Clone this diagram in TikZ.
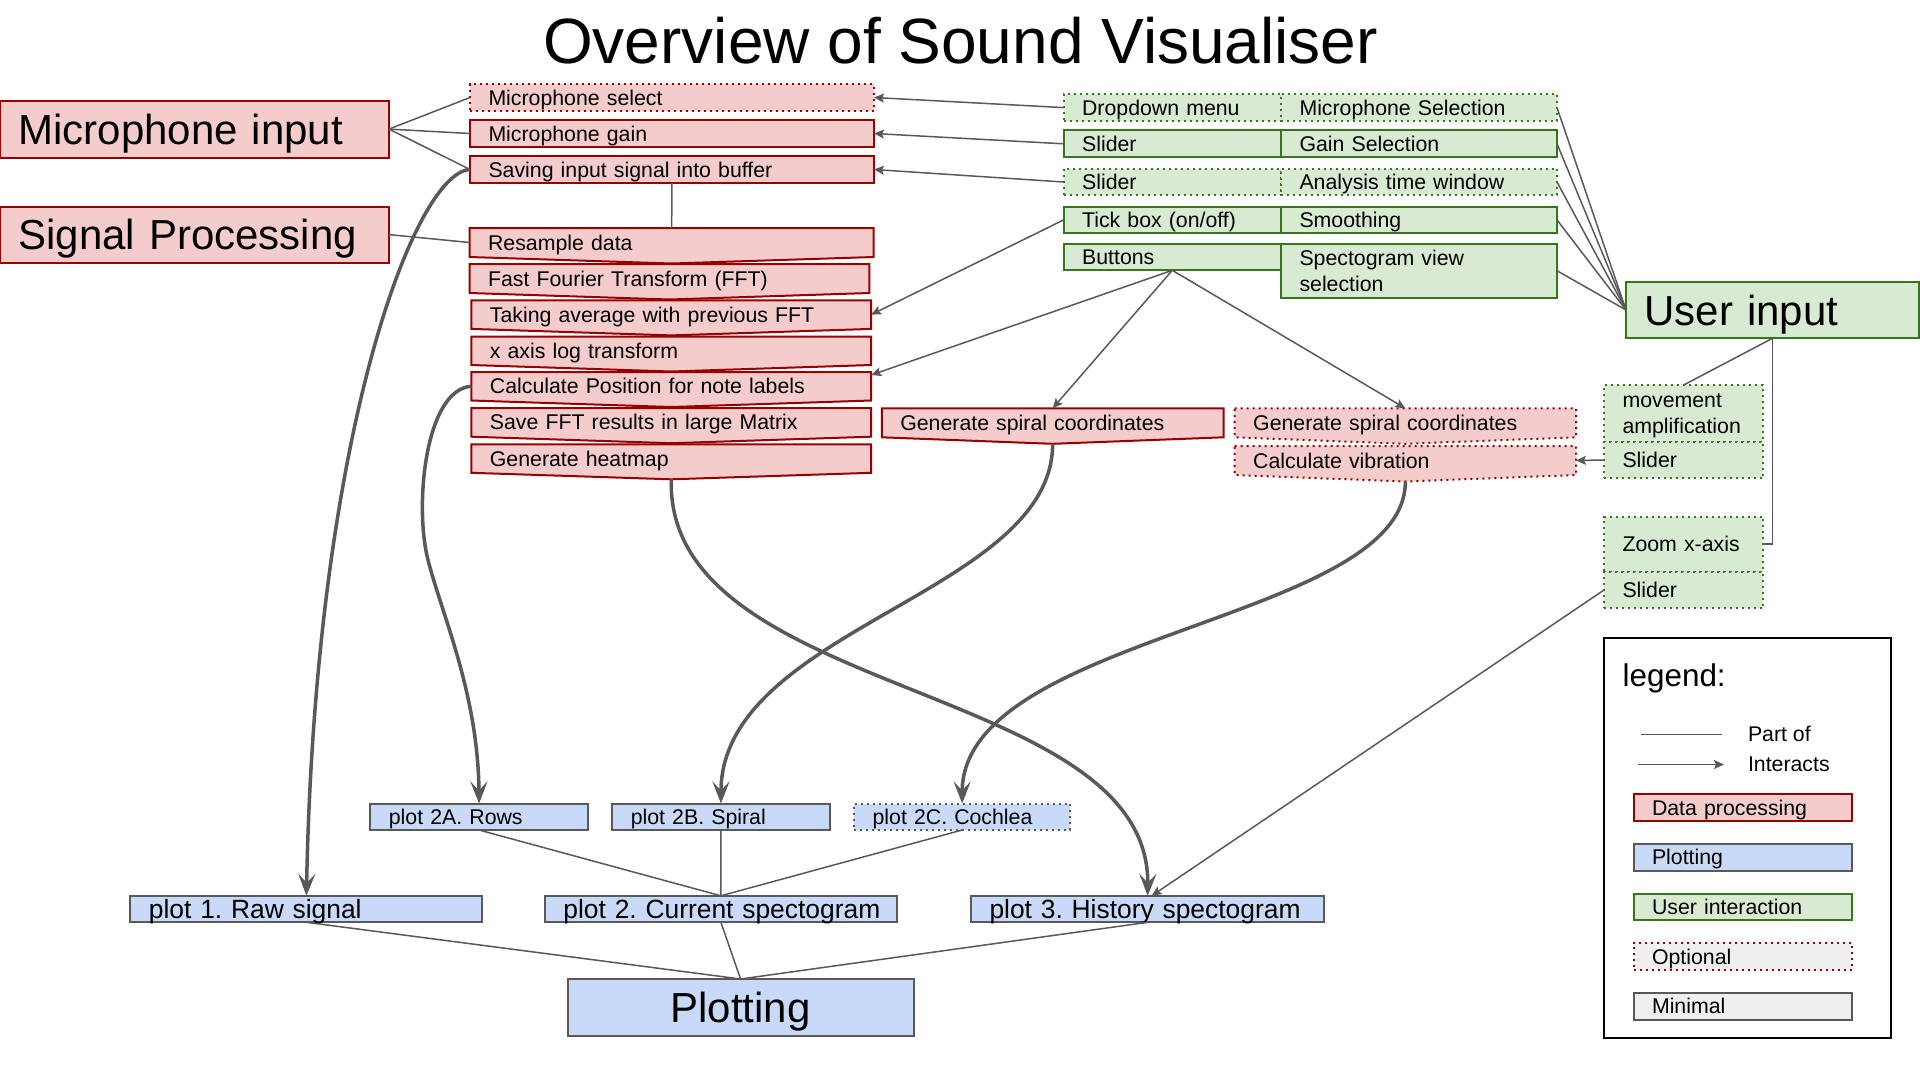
\documentclass[tikz,border=0pt]{standalone}
\usepackage{fontspec}
\setmainfont{Liberation Sans}
\usetikzlibrary{arrows.meta,backgrounds,calc}
\definecolor{rfill}{HTML}{F4CCCC}
\definecolor{rline}{HTML}{990000}
\definecolor{gfill}{HTML}{D9EAD3}
\definecolor{gline}{HTML}{38761D}
\definecolor{bfill}{HTML}{C9DAF8}
\definecolor{cgrey}{HTML}{595959}
\definecolor{lfill}{HTML}{EFEFEF}
\frenchspacing
\newcommand{\fsS}{\fontsize{21.3}{25.7}\selectfont}
\newcommand{\fsP}{\fontsize{26.4}{31}\selectfont}
\newcommand{\fsB}{\fontsize{42}{50}\selectfont}
\newcommand{\fsT}{\fontsize{64}{76}\selectfont}
\newcommand{\fsL}{\fontsize{31.4}{37}\selectfont}
\tikzset{
 boxbase/.style={rectangle, anchor=north west, inner ysep=0pt, inner xsep=18.5pt, outer sep=0pt, align=left, font=\fsS, text height=15.25pt, text depth=0pt, line width=2pt},
 dotln/.style={dash pattern=on 2pt off 4pt},
 redbox/.style={boxbase, fill=rfill, draw=rline},
 redopt/.style={redbox, dotln},
 greenbox/.style={boxbase, fill=gfill, draw=gline},
 greenopt/.style={greenbox, dotln},
 bluebox/.style={boxbase, fill=bfill, draw=cgrey},
 blueopt/.style={bluebox, dotln},
 greybox/.style={boxbase, fill=lfill, draw=cgrey},
 greyopt/.style={boxbase, fill=lfill, draw=rline, dotln},
 chevnode/.style={boxbase, draw=none, fill=none},
 chevred/.style={fill=rfill, draw=rline, line width=2pt, line join=miter},
 chevopt/.style={chevred, dotln},
 big/.style={font=\fsB, text height=30.1pt},
 plotfont/.style={font=\fsP, text height=18.9pt},
 conn/.style={draw=cgrey, line width=1.5pt},
 arr/.style={conn, -{Stealth[length=10pt,width=9pt,inset=2pt]}},
 bigarr/.style={draw=cgrey, line width=3.5pt, -{Stealth[length=22pt,width=17pt,inset=9pt]}},
 plain/.style={inner sep=0pt, outer sep=0pt, font=\fsS, text height=15.25pt, text depth=0pt},
}
\newcommand{\mybox}[7]{%
 \pgfmathsetmacro{\mytwd}{#5-37}%
 \node[#1, minimum width=#5pt, minimum height=#6pt, text width=\mytwd pt] (#2) at (#3,#4) {#7};}
\newcommand{\mychev}[2]{%
 \begin{scope}[on background layer]
 \draw[#2] (#1.north west) -- (#1.north east) -- (#1.south east) -- ([yshift=-6.5pt]#1.south) -- (#1.south west) -- cycle;
 \end{scope}}
\begin{document}
\begin{tikzpicture}[x=1pt,y=-1pt]
\begin{scope}[on background layer]
\fill[white] (0,0) rectangle (1920,1080);
\end{scope}
\useasboundingbox (0,0) rectangle (1920,1080);

\node[font=\fsT, anchor=base, inner sep=0pt] (title) at (960.5,63.7) {Overview of Sound Visualiser};

% section boxes
\mybox{redbox,big}{micin}{0}{100.6}{389}{57}{Microphone input}
\mybox{redbox,big}{sigproc}{0}{206.6}{389}{56}{Signal Processing}

% red column
\mybox{redopt}{micsel}{470}{84.3}{404}{26.4}{Microphone select}
\mybox{redbox}{micgain}{470}{120.3}{404}{26.4}{Microphone gain}
\mybox{redbox}{saving}{470}{156.3}{404}{26.4}{Saving input signal into buffer}
\mybox{chevnode}{resample}{469.6}{228}{404.1}{29}{Resample data}\mychev{resample}{chevred}
\mybox{chevnode}{fft}{469.6}{264}{399.8}{29}{Fast Fourier Transform (FFT)}\mychev{fft}{chevred}
\mybox{chevnode}{avg}{471.4}{300.3}{399.8}{28.6}{Taking average with previous FFT}\mychev{avg}{chevred}
\mybox{chevnode}{xlog}{471.4}{336.5}{399.8}{28.5}{x axis log transform}\mychev{xlog}{chevred}
\mybox{chevnode}{calc}{471.4}{372}{399.8}{28.5}{Calculate Position for note labels}\mychev{calc}{chevred}
\mybox{chevnode}{savefft}{471.4}{408}{399.8}{28.7}{Save FFT results in large Matrix}\mychev{savefft}{chevred}
\mybox{chevnode}{heat}{471.4}{444.3}{399.8}{28.5}{Generate heatmap}\mychev{heat}{chevred}

% green interaction boxes
\mybox{greenopt}{dd}{1063.6}{94}{217.4}{27.2}{Dropdown menu}
\mybox{greenopt}{mics}{1281}{94}{276}{27.2}{Microphone Selection}
\mybox{greenbox}{sl1}{1063.6}{130.2}{217.4}{27.2}{Slider}
\mybox{greenbox}{gains}{1281}{130.2}{276}{27.2}{Gain Selection}
\mybox{greenopt}{sl2}{1063.6}{168.7}{217.4}{26.6}{Slider}
\mybox{greenopt}{atw}{1281}{168.7}{276}{26.6}{Analysis time window}
\mybox{greenbox}{tick}{1063.6}{206.6}{217.4}{26.6}{Tick box (on/off)}
\mybox{greenbox}{smooth}{1281}{206.6}{276}{26.6}{Smoothing}
\mybox{greenbox}{btn}{1063.6}{243.5}{217.4}{26.8}{Buttons}
\mybox{greenbox,text depth=25.7pt}{specv}{1281}{243.5}{276}{54.4}{Spectogram view\\selection}
\mybox{greenbox,big}{ui}{1626}{281.7}{293}{56.6}{User input}

% red right boxes
\mybox{chevnode}{spiral}{881.8}{408.3}{341.7}{29}{Generate spiral coordinates}\mychev{spiral}{chevred}
\mybox{chevnode}{dspiral}{1234.7}{408.3}{341.3}{29}{Generate spiral coordinates}\mychev{dspiral}{chevopt}
\mybox{chevnode}{vib}{1234.7}{446}{341.3}{29}{Calculate vibration}\mychev{vib}{chevopt}
\coordinate (heatpt) at ([yshift=-6.5pt]heat.south);
\coordinate (spiralpt) at ([yshift=-6.5pt]spiral.south);
\coordinate (vibpt) at ([yshift=-6.5pt]vib.south);

% green right boxes
\mybox{greenopt,text depth=26pt}{move}{1604}{385}{159.3}{56.7}{movement\\amplification}
\mybox{greenopt}{sl3}{1604}{441.7}{159.3}{36.6}{Slider}
\mybox{greenopt}{zoomx}{1604}{516.7}{159.3}{55}{Zoom x-axis}
\mybox{greenopt}{sl4}{1604}{571.7}{159.3}{36.6}{Slider}

% plots
\mybox{bluebox}{p2a}{370.4}{803.5}{217.4}{26.5}{plot 2A. Rows}
\mybox{bluebox}{p2b}{612.3}{803.5}{217.3}{26.5}{plot 2B. Spiral}
\mybox{blueopt}{p2c}{854.1}{803.5}{216.1}{26.5}{plot 2C. Cochlea}
\mybox{bluebox,plotfont}{p1}{130.4}{895.8}{352}{26.5}{\mbox{plot 1. Raw signal}}
\mybox{bluebox,plotfont}{p2}{544.9}{895.8}{352}{26.5}{\mbox{plot 2. Current spectogram}}
\mybox{bluebox,plotfont}{p3}{971}{895.8}{353.3}{26.5}{\mbox{plot 3. History spectogram}}
\mybox{bluebox,big,align=center}{plotting}{567.6}{979}{345.9}{57}{Plotting}

% legend
\mybox{boxbase,draw=black,fill=none}{legend}{1604}{638}{286.6}{400.3}{}
\node[anchor=base west, inner sep=0pt, font=\fsL] (legt) at (1622.5,686) {legend:};
\coordinate (pa) at (1641.4,734.6);
\coordinate (pb) at (1722.3,734.6);
\draw[conn] (pa) -- (pb);
\node[plain, anchor=west] (partof) at (1748,733.5) {Part of};
\coordinate (ia) at (1637.8,764.5);
\coordinate (ib) at (1724,764.5);
\draw[arr] (ia) -- (ib);
\node[plain, anchor=west] (interacts) at (1748,764) {Interacts};
\mybox{redbox}{lgdata}{1633.5}{794.2}{218.5}{26.5}{Data processing}
\mybox{bluebox}{lgplot}{1633.5}{843.7}{218.5}{26.9}{Plotting}
\mybox{greenbox}{lguser}{1633.5}{893.7}{218.5}{26.2}{User interaction}
\mybox{greyopt}{lgopt}{1633.5}{943}{218.5}{26.8}{Optional}
\mybox{greybox}{lgmin}{1633.5}{992.9}{218.5}{26.8}{Minimal}

% connectors
\draw[conn] (micin.east) -- (micsel.west);
\draw[conn] (micin.east) -- (micgain.west);
\draw[conn] (micin.east) -- (saving.west);
\draw[conn] (sigproc.east) -- (resample.west);
\draw[conn] (saving.south) -- (resample.north);
\draw[arr] (dd.west) -- (micsel.east);
\draw[arr] (sl1.west) -- (micgain.east);
\draw[arr] (sl2.west) -- (saving.east);
\draw[arr] (tick.west) -- (avg.east);
\draw[arr] (btn.south) -- ([yshift=-3pt]calc.north east);
\draw[arr] (btn.south) -- (spiral.north);
\draw[arr] (btn.south) -- (dspiral.north);
\foreach \n in {mics,gains,atw,smooth,specv} \draw[conn] (\n.east) -- (ui.west);
\draw[conn] (ui.south) -- (move.north);
\draw[conn] (ui.south) |- (zoomx.east);
\draw[arr] (sl3.west) -- (vib.east);
\draw[arr] (sl4.west) -- ([xshift=4pt]p3.north);
\foreach \n in {p2a,p2b,p2c} \draw[conn] (\n.south) -- (p2.north);
\foreach \n in {p1,p2,p3} \draw[conn] (\n.south) -- (plotting.north);

% thick curves
\draw[bigarr] (saving.west) .. controls +(-55,2.5) and +(9,-463) .. (p1.north);
\draw[bigarr] (calc.west) .. controls +(-46,3) and (414,505) .. (428,560) .. controls (442,615) and +(-1,-110) .. (p2a.north);
\draw[bigarr] (heatpt) .. controls +(-6.6,220) and +(2.4,-214.7) .. (p3.north);
\draw[bigarr] (spiralpt) .. controls +(0,150) and +(0,-175) .. (p2b.north);
\draw[bigarr] (vibpt) .. controls +(0,140) and +(0,-170) .. (p2c.north);
\end{tikzpicture}
\end{document}
